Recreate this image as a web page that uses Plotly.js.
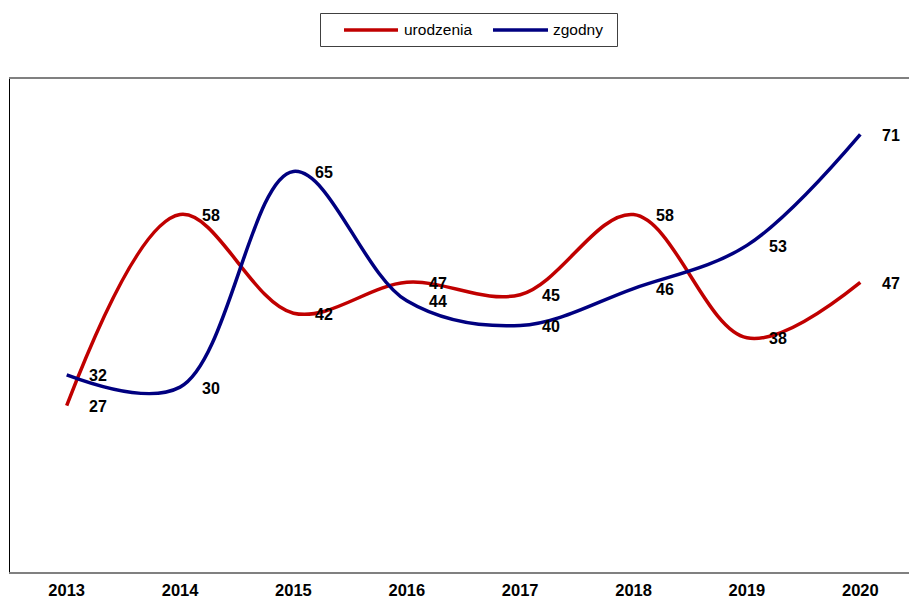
<!DOCTYPE html>
<html>
<head>
<meta charset="utf-8">
<script src="https://cdn.plot.ly/plotly-3.0.1.min.js"></script>
<style>
html,body{margin:0;padding:0;overflow:hidden;background:#fff;}
#chart{width:918px;height:599px;}
</style>
</head>
<body>
<div id="chart"></div>
<script>
var years = ["2013","2014","2015","2016","2017","2018","2019","2020"];
var urodzenia = [27, 58, 42, 47, 45, 58, 38, 47];
var zgodny = [32, 30, 65, 44, 40, 46, 53, 71];
var seriesNames = ["urodzenia", "zgodny"];
var seriesColors = ["#c00000", "#000080"];

var FONT = "Liberation Sans, Arial, sans-serif";
var allSeries = [urodzenia, zgodny];

// plot area geometry (pixels)
var W = 918, H = 599;
var M = {l: 10, r: 1, t: 79, b: 27};
var PW = W - M.l - M.r, PH = H - M.t - M.b;
function px2x(p){ return (p - M.l) / PW; }
function py2y(p){ return (H - M.b - p) / PH; }

var traces = allSeries.map(function(vals, i){
  return {
    type: "scatter",
    mode: "lines",
    x: years.map(function(_, j){ return j; }),
    y: vals,
    name: seriesNames[i],
    line: {color: seriesColors[i], width: 3.5, shape: "spline", smoothing: 1},
    hoverinfo: "skip",
    showlegend: false
  };
});

var annotations = [];
allSeries.forEach(function(vals){
  vals.forEach(function(v, j){
    annotations.push({
      x: j, y: v, xref: "x", yref: "y",
      text: "<b>" + v + "</b>", showarrow: false,
      xanchor: "left", yanchor: "middle", xshift: 20, yshift: -1,
      font: {family: FONT, size: 16, color: "#000"}
    });
  });
});

// manual legend
var shapes = [{
  type: "rect", xref: "paper", yref: "paper",
  x0: px2x(320.5), x1: px2x(617.5), y0: py2y(13.5), y1: py2y(46.5),
  line: {color: "#404040", width: 1}, fillcolor: "#fff"
}];
var legLines = [[344, 398], [493, 548]];
var legText = [402, 551];
seriesNames.forEach(function(n, i){
  shapes.push({
    type: "line", xref: "paper", yref: "paper",
    x0: px2x(legLines[i][0]), x1: px2x(legLines[i][1]), y0: py2y(30), y1: py2y(30),
    line: {color: seriesColors[i], width: 3.5}
  });
  annotations.push({
    xref: "paper", yref: "paper", x: px2x(legText[i]), y: py2y(30),
    xanchor: "left", yanchor: "middle", showarrow: false,
    text: n, font: {family: FONT, size: 15.5, color: "#000"}
  });
});

var layout = {
  width: W, height: H,
  margin: M,
  paper_bgcolor: "#fff", plot_bgcolor: "#fff",
  showlegend: false,
  xaxis: {
    type: "linear", range: [-0.5, 7.5],
    tickmode: "array", tickvals: years.map(function(_, j){ return j; }),
    ticktext: years.map(function(y){ return "<b>" + y + "</b>"; }),
    showgrid: false, zeroline: false,
    showline: true, linecolor: "#808080", linewidth: 2, mirror: true,
    ticks: "", ticklabelstandoff: 2,
    tickfont: {family: FONT, size: 16.5, color: "#000"},
    fixedrange: true
  },
  yaxis: {
    range: [0, 80], showgrid: false, zeroline: false,
    showline: true, linecolor: "#000", linewidth: 1.5,
    showticklabels: false, ticks: "", fixedrange: true
  },
  annotations: annotations,
  shapes: shapes
};

Plotly.newPlot("chart", traces, layout, {staticPlot: true});
</script>
</body>
</html>
